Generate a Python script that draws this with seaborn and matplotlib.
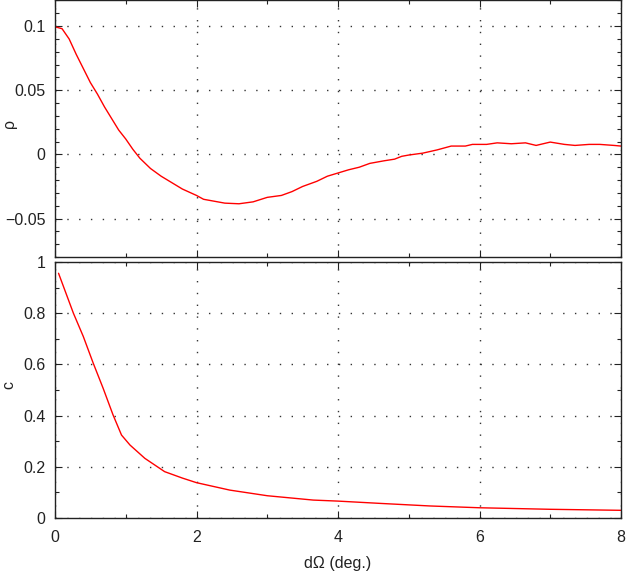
import matplotlib
matplotlib.use("Agg")
import matplotlib.pyplot as plt
from matplotlib.ticker import MultipleLocator, FuncFormatter
import seaborn as sns
import pandas as pd

# ---- data ----
rho_x = [0, 0.1, 0.2, 0.3, 0.4, 0.5, 0.6, 0.7, 0.8, 0.9, 1.0, 1.1, 1.2, 1.35, 1.5,
         1.65, 1.8, 2.0, 2.1, 2.2, 2.4, 2.6, 2.8, 3.0, 3.2, 3.35, 3.5, 3.7, 3.85,
         4.0, 4.15, 4.3, 4.45, 4.65, 4.8, 4.9, 5.0, 5.2, 5.4, 5.6, 5.8, 5.9, 6.1,
         6.25, 6.45, 6.65, 6.8, 7.0, 7.2, 7.35, 7.55, 7.7, 7.9, 8.0]
rho_y = [0.0995, 0.098, 0.090, 0.078, 0.067, 0.056, 0.047, 0.037, 0.028, 0.019,
         0.012, 0.004, -0.003, -0.011, -0.017, -0.022, -0.027, -0.032, -0.035,
         -0.036, -0.038, -0.0385, -0.037, -0.0335, -0.032, -0.029, -0.025, -0.021,
         -0.017, -0.0145, -0.012, -0.010, -0.007, -0.005, -0.0037, -0.0015, -0.0005,
         0.001, 0.0035, 0.0065, 0.0065, 0.0078, 0.0078, 0.009, 0.0083, 0.009, 0.007,
         0.0096, 0.0078, 0.007, 0.0078, 0.0078, 0.007, 0.0065]

c_x = [0.05, 0.26, 0.4, 0.54, 0.68, 0.82, 0.94, 1.06, 1.27, 1.55, 1.8, 2.0, 2.47,
       3.0, 3.65, 4.0, 4.6, 5.3, 6.0, 7.0, 8.0]
c_y = [0.956, 0.80, 0.709, 0.605, 0.507, 0.403, 0.324, 0.285, 0.233, 0.181, 0.156,
       0.138, 0.109, 0.087, 0.070, 0.066, 0.057, 0.047, 0.040, 0.034, 0.030]

x_ticks = [0, 2, 4, 6, 8]
rho_ticks = [-0.05, 0, 0.05, 0.1]
c_ticks = [0, 0.2, 0.4, 0.6, 0.8, 1]

sns.set_style("white")
plt.rcParams['font.family'] = ['Liberation Sans', 'DejaVu Sans']
plt.rcParams['font.size'] = 11.5

W, H = 626, 573
fig = plt.figure(figsize=(W / 100, H / 100), dpi=100)
L, R = 55, 621
ax1 = fig.add_axes([L / W, 1 - 257 / H, (R - L) / W, 256.5 / H])
ax2 = fig.add_axes([L / W, 1 - 518 / H, (R - L) / W, 256 / H])

df1 = pd.DataFrame({"x": rho_x, "y": rho_y})
df2 = pd.DataFrame({"x": c_x, "y": c_y})
sns.lineplot(data=df1, x="x", y="y", ax=ax1, color="#ff0000", linewidth=1.0, estimator=None)
sns.lineplot(data=df2, x="x", y="y", ax=ax2, color="#ff0000", linewidth=1.0, estimator=None)


def fmt(v, pos):
    s = ("%g" % round(v, 4))
    if s == "-0":
        s = "0"
    return s.replace("-", "\u2212")


for ax, yt, ylim, ymin in [(ax1, rho_ticks, (-0.08, 0.12), 0.01),
                           (ax2, c_ticks, (0, 1), 0.1)]:
    ax.set_xlim(0, 8)
    ax.set_ylim(*ylim)
    ax.set_xticks(x_ticks)
    ax.set_yticks(yt)
    ax.xaxis.set_minor_locator(MultipleLocator(1))
    ax.yaxis.set_minor_locator(MultipleLocator(ymin))
    ax.yaxis.set_major_formatter(FuncFormatter(fmt))
    ax.tick_params(which="both", direction="in", top=True, right=True,
                   bottom=True, left=True, color="#222222", width=0.8)
    ax.tick_params(which="major", length=5, pad=7, labelsize=11.5, colors="#222222")
    ax.tick_params(axis="x", which="major", pad=9)
    ax.tick_params(which="minor", length=3)
    ax.grid(True, which="major", color="#333333", linestyle=(0, (1, 7.5)), linewidth=1.0)
    for sp in ax.spines.values():
        sp.set_color("#222222")
        sp.set_linewidth(1.0)
    ax.set_xlabel("")
    ax.set_ylabel("")

ax1.tick_params(labelbottom=False)
ax1.set_ylabel("\u03c1", fontsize=11.5, color="#222222")
ax1.yaxis.set_label_coords(-0.068, 0.52)
ax2.set_ylabel("c", fontsize=11.5, color="#222222")
ax2.yaxis.set_label_coords(-0.068, 0.52)
ax2.set_xlabel("d\u03a9 (deg.)", fontsize=11.5, color="#222222")
ax2.xaxis.set_label_coords(0.5, -0.15)

fig.savefig("out.png", dpi=100)
